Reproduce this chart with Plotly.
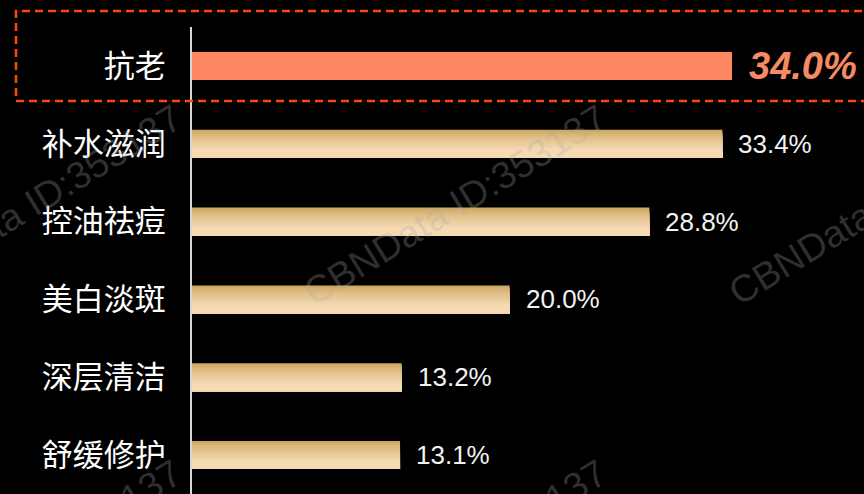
import plotly.graph_objects as go

categories = ["抗老", "补水滋润", "控油祛痘", "美白淡斑", "深层清洁", "舒缓修护"]
values = [34.0, 33.4, 28.8, 20.0, 13.2, 13.1]
value_labels = ["34.0%", "33.4%", "28.8%", "20.0%", "13.2%", "13.1%"]
highlight = "抗老"

W, H = 864, 494
ML, MT = 192, 27
PW, PH = W - ML, H - MT
PX_PER_UNIT = 15.88
XMAX = PW / PX_PER_UNIT

def px(x):
    return (x - ML) / PW

def py(y):
    return (H - y) / PH

BAR_W = 0.36
N = 14
top_c = (206, 168, 98)
bot_c = (246, 218, 180)
HL_COLOR = "#FF8864"

fig = go.Figure()
for i in range(N):
    t = i / (N - 1)
    f = min(1.0, t / 0.75) ** 0.8
    c = tuple(round(top_c[k] + (bot_c[k] - top_c[k]) * f) for k in range(3))
    col = "rgb(%d,%d,%d)" % c
    colors = [HL_COLOR if cat == highlight else col for cat in categories]
    off = -BAR_W / 2 + i * BAR_W / N
    fig.add_trace(go.Bar(
        x=values, y=categories, orientation="h",
        marker=dict(color=colors, line=dict(width=0)),
        width=BAR_W - i * BAR_W / N, offset=off,
        hoverinfo="skip", showlegend=False,
    ))

annotations = []
for cat, v, lab in zip(categories, values, value_labels):
    if cat == highlight:
        annotations.append(dict(
            x=v, y=cat, xref="x", yref="y", xanchor="left", yanchor="middle",
            xshift=15, showarrow=False,
            text="<b><i>%s</i></b>" % lab,
            font=dict(family="Liberation Sans Narrow, Liberation Sans, Arial", size=38, color="#F58A64"),
        ))
    else:
        annotations.append(dict(
            x=v, y=cat, xref="x", yref="y", xanchor="left", yanchor="middle",
            xshift=14, showarrow=False, text=lab,
            font=dict(family="Liberation Sans Narrow, Liberation Sans, Arial", size=26, color="#F2F2F2"),
        ))

# watermark
wm_text = "CBNData ID:353137"
for cx, cy in [(30, 205), (455, 205), (880, 205), (30, 560), (455, 560)]:
    annotations.append(dict(
        x=px(cx), y=py(cy), xref="paper", yref="paper", xanchor="center", yanchor="middle",
        showarrow=False, text=wm_text, textangle=-31.5,
        font=dict(family="Liberation Sans, Arial", size=38, color="rgba(170,170,170,0.28)"),
    ))

fig.update_layout(
    width=W, height=H,
    margin=dict(l=ML, r=0, t=MT, b=0, autoexpand=False),
    paper_bgcolor="#000000", plot_bgcolor="#000000",
    barmode="overlay",
    annotations=annotations,
    shapes=[dict(
        type="rect", xref="paper", yref="paper",
        x0=px(16), x1=px(875), y0=py(101), y1=py(11),
        line=dict(color="#FF4A00", width=2.5, dash="8px,5px"),
        fillcolor="rgba(0,0,0,0)", layer="above",
    )],
    xaxis=dict(range=[0, XMAX], visible=False, showgrid=False, zeroline=False),
    yaxis=dict(
        autorange="reversed", type="category",
        showline=True, linecolor="#D8D8D8", linewidth=2,
        showgrid=False, zeroline=False, ticks="",
        ticklabelstandoff=18,
        tickfont=dict(family="Noto Sans CJK SC", size=31, color="#FFFFFF"),
    ),
)

fig.write_html(
    "out.html",
    config={"displayModeBar": False},
    post_script="document.body.style.margin='0';document.body.style.background='#000';",
)
